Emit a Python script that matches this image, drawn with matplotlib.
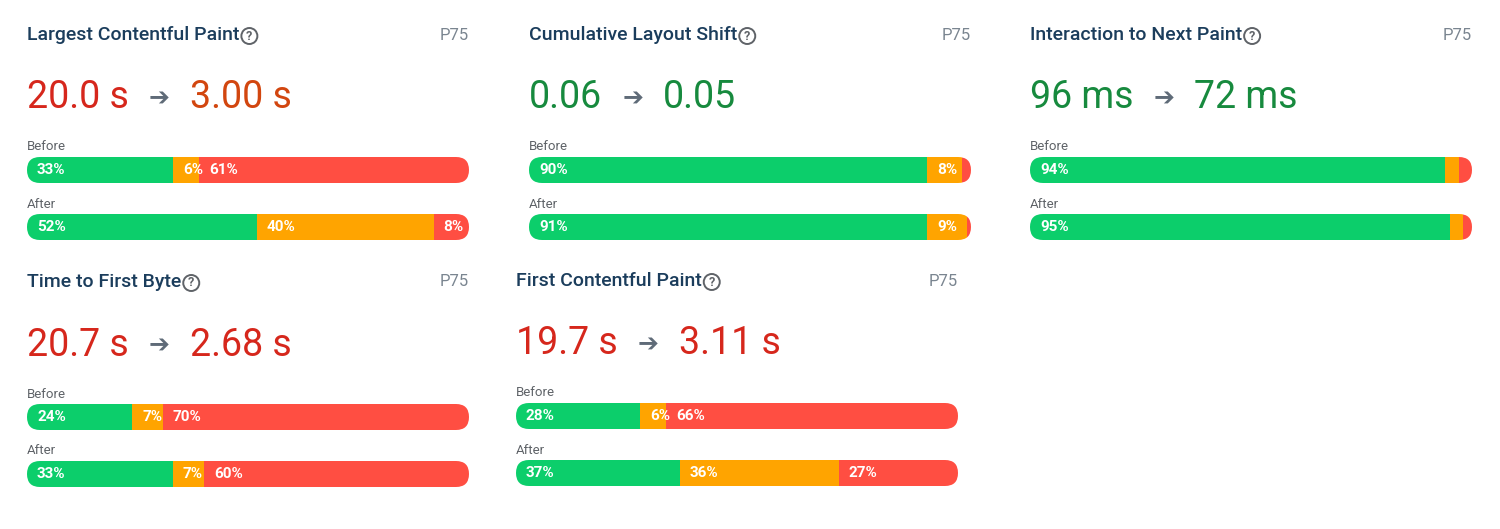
import matplotlib
matplotlib.use("Agg")
import matplotlib.pyplot as plt
from matplotlib.patches import FancyBboxPatch, Rectangle, Circle

titles = ["Largest Contentful Paint", "Cumulative Layout Shift", "Interaction to Next Paint",
          "Time to First Byte", "First Contentful Paint"]
before_vals = ["20.0 s", "0.06", "96 ms", "20.7 s", "19.7 s"]
after_vals = ["3.00 s", "0.05", "72 ms", "2.68 s", "3.11 s"]
before_color = ["#d6271c", "#178a3e", "#178a3e", "#d6271c", "#d6271c"]
after_color = ["#d2460f", "#178a3e", "#178a3e", "#d6271c", "#d6271c"]
before_pct = [[33, 6, 61], [90, 8, 2], [94, 3, 3], [24, 7, 70], [28, 6, 66]]
after_pct = [[52, 40, 8], [91, 9, 1], [95, 3, 2], [33, 7, 60], [37, 36, 27]]

# panel origins (left x, title y) in pixels
origins = [(27, 35), (529, 35), (1030, 35), (27, 282), (516, 281)]
PW = 442
seg_colors = ["#0cce6b", "#ffa400", "#ff4e42"]
TITLE = "#1b3d5c"

fig = plt.figure(figsize=(15, 5.29), dpi=100)
ax = fig.add_axes([0, 0, 1, 1])
ax.set_xlim(0, 1500)
ax.set_ylim(529, 0)
ax.axis("off")
fig.canvas.draw()
r = fig.canvas.get_renderer()


def width_px(t):
    bb = t.get_window_extent(renderer=r)
    return bb.width


def bar(x0, yc, pcts):
    h = 26
    clip = FancyBboxPatch((x0, yc - h / 2), PW, h, boxstyle="round,pad=0,rounding_size=13",
                          transform=ax.transData, facecolor="none", edgecolor="none")
    ax.add_patch(clip)
    tot = sum(pcts)
    x = x0
    for p, c in zip(pcts, seg_colors):
        w = PW * p / tot
        rect = Rectangle((x, yc - h / 2), w, h, facecolor=c, edgecolor="none")
        ax.add_patch(rect)
        rect.set_clip_path(clip)
        if p >= 5:
            ax.text(x + 10, yc, f"{p}%", color="white", fontsize=11, fontweight="bold",
                    family="Roboto", va="center", ha="left")
        x += w


for i, (x0, ty) in enumerate(origins):
    t = ax.text(x0, ty, titles[i], fontsize=14, fontweight="medium", color=TITLE,
                family="Roboto", va="center", ha="left")
    tw = width_px(t)
    cx = x0 + tw + 10
    ax.add_patch(Circle((cx, ty + 1), 8, facecolor="none", edgecolor="#5f6368", lw=1.4))
    ax.text(cx, ty + 1, "?", fontsize=9, color="#5f6368", fontweight="bold",
            family="Roboto", ha="center", va="center")
    ax.text(x0 + PW, ty, "P75", fontsize=12, color="#7a8590", family="Roboto",
            ha="right", va="center")

    vy = ty + 63
    t1 = ax.text(x0, vy, before_vals[i], fontsize=27, color=before_color[i],
                 family="Roboto", va="center", ha="left")
    w1 = width_px(t1)
    t2 = ax.text(x0 + w1 + 20, vy, "➔", fontsize=18, color="#5f6b78",
                 family="DejaVu Sans", va="center", ha="left")
    w2 = width_px(t2)
    ax.text(x0 + w1 + w2 + 40, vy, after_vals[i], fontsize=27, color=after_color[i],
            family="Roboto", va="center", ha="left")

    ax.text(x0, ty + 112, "Before", fontsize=9.5, color="#5f6368", family="Roboto",
            va="center", ha="left")
    bar(x0, ty + 135, before_pct[i])
    ax.text(x0, ty + 169, "After", fontsize=9.5, color="#5f6368", family="Roboto",
            va="center", ha="left")
    bar(x0, ty + 192, after_pct[i])

fig.savefig("out.png", dpi=100, facecolor="white")
